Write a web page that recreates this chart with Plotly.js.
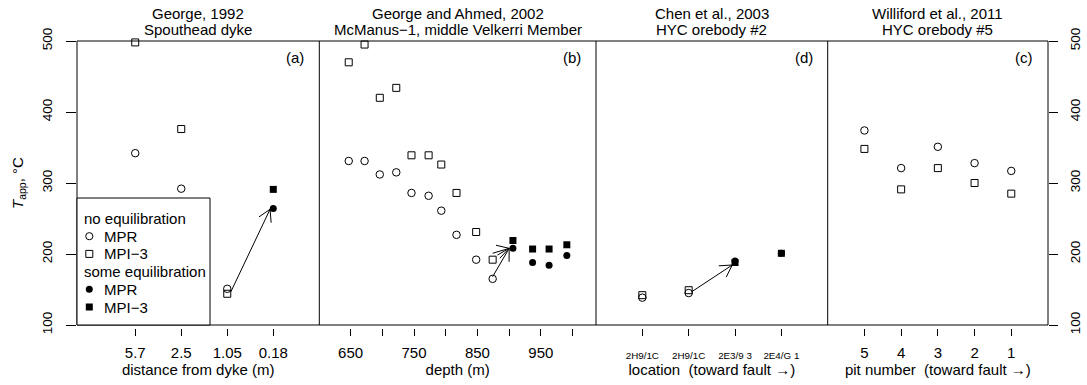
<!DOCTYPE html>
<html><head><meta charset="utf-8">
<script src="https://cdn.plot.ly/plotly-3.0.1.min.js"></script>
<style>html,body{margin:0;padding:0;background:#fff}</style>
</head><body><div id="chart" style="width:1087px;height:385px"></div>
<script>
// ---------- data ----------
// Panel (a) George, 1992 – Spouthead dyke (categorical positions 1..4)
const aTickVals = [1, 2, 3, 4];
const aTickText = ["5.7", "2.5", "1.05", "0.18"];
const aMprOpenX = [1, 2, 3];
const aMprOpenY = [342, 292, 151];
const aMpiOpenX = [1, 2, 3];
const aMpiOpenY = [498, 376, 144];
const aMprFillX = [4];
const aMprFillY = [264];
const aMpiFillX = [4];
const aMpiFillY = [291];

// Panel (b) George and Ahmed, 2002 – McManus-1 (depth, m)
const bTickVals = [650, 750, 850, 950];
const bTickText = ["650", "750", "850", "950"];
const bMinorStep = 50;
const bOpenX = [647, 672, 696, 722, 746, 773, 793, 817, 848, 874];
const bMpiOpenY = [470, 495, 420, 434, 339, 339, 326, 286, 231, 192];
const bMprOpenY = [331, 331, 312, 315, 286, 282, 261, 227, 192, 165];
const bFillX = [906, 937, 963, 991];
const bMpiFillY = [219, 207, 207, 213];
const bMprFillY = [208, 188, 184, 198];

// Panel (d) Chen et al., 2003 – HYC orebody #2
const dTickVals = [1, 2, 3, 4];
const dTickText = ["2H9/1C", "2H9/1C", "2E3/9 3", "2E4/G 1"];
const dOpenX = [1, 2];
const dMprOpenY = [138.5, 145];
const dMpiOpenY = [142, 149];
const dFillX = [3, 4];
const dMprFillY = [190, 201];
const dMpiFillY = [188, 201];

// Panel (c) Williford et al., 2011 – HYC orebody #5
const cTickVals = [1, 2, 3, 4, 5];
const cTickText = ["5", "4", "3", "2", "1"];
const cMprOpenY = [374, 321, 351, 328, 317];
const cMpiOpenY = [348, 291, 321, 300, 285];

// arrows (start -> end, in each panel's data units)
const arrowAxis = ["x", "x2", "x2", "x3"];
const arrowStartX = [3.08, 874, 874, 2.07];
const arrowStartY = [147, 201, 168, 147];
const arrowEndX = [3.93, 900, 900, 2.94];
const arrowEndY = [263, 208, 208, 184.5];

const yTickVals = [100, 200, 300, 400, 500];

const panelTitles1 = ["George, 1992", "George and Ahmed, 2002", "Chen et al., 2003", "Williford et al., 2011"];
const panelTitles2 = ["Spouthead dyke", "McManus\u22121, middle Velkerri Member", "HYC orebody #2", "HYC orebody #5"];
const panelLabels = ["(a)", "(b)", "(d)", "(c)"];
const panelAxes = ["x", "x2", "x3", "x4"];

const legendRows = ["no equilibration", "MPR", "MPI\u22123", "some equilibration", "MPR", "MPI\u22123"];
const legendSymbols = [null, "circle-open", "square-open", null, "circle", "square"];

// ---------- styles ----------
const FONT = "Liberation Sans, Arial, Helvetica, sans-serif";
const sty = {
  "circle-open": {symbol: "circle-open", size: 7.5, color: "black", line: {width: 1, color: "black"}},
  "square-open": {symbol: "square-open", size: 7, color: "black", line: {width: 1, color: "black"}},
  "circle": {symbol: "circle", size: 7, color: "black", line: {width: 0}},
  "square": {symbol: "square", size: 7, color: "black", line: {width: 0}}
};
function tr(x, y, xa, sym) {
  return {type: "scatter", mode: "markers", x: x, y: y, xaxis: xa, yaxis: "y",
          marker: sty[sym], showlegend: false, hoverinfo: "skip", cliponaxis: false};
}

const traces = [
  tr(aMprOpenX, aMprOpenY, "x", "circle-open"),
  tr(aMpiOpenX, aMpiOpenY, "x", "square-open"),
  tr(aMprFillX, aMprFillY, "x", "circle"),
  tr(aMpiFillX, aMpiFillY, "x", "square"),
  tr(bOpenX, bMprOpenY, "x2", "circle-open"),
  tr(bOpenX, bMpiOpenY, "x2", "square-open"),
  tr(bFillX, bMprFillY, "x2", "circle"),
  tr(bFillX, bMpiFillY, "x2", "square"),
  tr(dOpenX, dMprOpenY, "x3", "circle-open"),
  tr(dOpenX, dMpiOpenY, "x3", "square-open"),
  tr(dFillX, dMprFillY, "x3", "circle"),
  tr(dFillX, dMpiFillY, "x3", "square"),
  tr(cTickVals, cMprOpenY, "x4", "circle-open"),
  tr(cTickVals, cMpiOpenY, "x4", "square-open"),
  {type: "scatter", x: [], y: [], xaxis: "x4", yaxis: "y2", showlegend: false, hoverinfo: "skip"}
];

// ---------- layout ----------
const PLOT_L = 77, PLOT_R = 1048, PLOT_T = 41, PLOT_B = 325, PAPER_B = 328;
const W = PLOT_R - PLOT_L;
const bounds = [PLOT_L, 319.3, 596, 827.7, PLOT_R].map(v => (v - PLOT_L) / W);
const yDomLow = (PAPER_B - PLOT_B) / (PAPER_B - PLOT_T);
const xRanges = {x: [-0.265, 5.0], x2: [600.6, 1037], x3: [0, 5], x4: [0, 6]};
const yRange = [100, 500];

const xCommon = {
  anchor: "free", position: 0, showgrid: false, zeroline: false, showline: false,
  ticks: "outside", ticklen: 7, tickwidth: 1, tickcolor: "black",
  tickfont: {family: FONT, size: 15, color: "black"},
  ticklabelstandoff: 4, fixedrange: true
};
function xTitle(t) { return {text: t, font: {family: FONT, size: 15, color: "black"}, standoff: 3}; }

const layout = {
  width: 1087, height: 385,
  margin: {l: PLOT_L, r: 1087 - PLOT_R, t: PLOT_T, b: 385 - PAPER_B},
  paper_bgcolor: "white", plot_bgcolor: "white", showlegend: false,
  font: {family: FONT, size: 15, color: "black"},
  xaxis: Object.assign({}, xCommon, {domain: [bounds[0], bounds[1]], range: xRanges.x,
    tickmode: "array", tickvals: aTickVals, ticktext: aTickText, title: xTitle("distance from dyke (m)")}),
  xaxis2: Object.assign({}, xCommon, {domain: [bounds[1], bounds[2]], range: xRanges.x2,
    tickmode: "array", tickvals: bTickVals, ticktext: bTickText,
    minor: {tickmode: "linear", tick0: bTickVals[0], dtick: bMinorStep, ticks: "outside", ticklen: 7,
            tickwidth: 1, tickcolor: "black", showgrid: false},
    title: xTitle("depth (m)")}),
  xaxis3: Object.assign({}, xCommon, {domain: [bounds[2], bounds[3]], range: xRanges.x3,
    tickmode: "array", tickvals: dTickVals, ticktext: dTickText,
    tickfont: {family: FONT, size: 9.8, color: "black"}, ticklabelstandoff: 11,
    title: xTitle("location\u00a0 (toward fault \u2192)")}),
  xaxis4: Object.assign({}, xCommon, {domain: [bounds[3], bounds[4]], range: xRanges.x4,
    tickmode: "array", tickvals: cTickVals, ticktext: cTickText,
    title: xTitle("pit number\u00a0 (toward fault \u2192)")}),
  yaxis: {domain: [yDomLow, 1], range: yRange, anchor: "x", side: "left",
    showgrid: false, zeroline: false, showline: false,
    tickmode: "array", tickvals: yTickVals, ticks: "outside", ticklen: 10, tickwidth: 1, tickcolor: "black",
    tickangle: -90, tickfont: {family: FONT, size: 13.5, color: "black"}, ticklabelstandoff: 9, fixedrange: true},
  yaxis2: {overlaying: "y", range: yRange, anchor: "x4", side: "right",
    showgrid: false, zeroline: false, showline: false,
    tickmode: "array", tickvals: yTickVals, ticks: "outside", ticklen: 9, tickwidth: 1, tickcolor: "black",
    tickangle: -90, tickfont: {family: FONT, size: 13.5, color: "black"}, ticklabelstandoff: 6, fixedrange: true},
  shapes: [],
  annotations: []
};

// frame
layout.shapes.push({type: "rect", xref: "paper", x0: 0, x1: 1, yref: "y domain", y0: 0, y1: 1,
  line: {color: "black", width: 1}, fillcolor: "rgba(0,0,0,0)", layer: "above"});
["x2", "x3", "x4"].forEach(a => layout.shapes.push({type: "line", xref: a + " domain", x0: 0, x1: 0,
  yref: "y domain", y0: 0, y1: 1, line: {color: "black", width: 1}, layer: "above"}));

// panel titles & labels
panelAxes.forEach((a, i) => {
  layout.annotations.push({xref: a + " domain", x: 0.5, yref: "y domain", y: 1, yanchor: "middle",
    yshift: 28, text: panelTitles1[i], showarrow: false, font: {family: FONT, size: 15}});
  layout.annotations.push({xref: a + " domain", x: 0.5, yref: "y domain", y: 1, yanchor: "middle",
    yshift: 12, text: panelTitles2[i], showarrow: false, font: {family: FONT, size: 15}});
  layout.annotations.push({xref: a + " domain", x: 1, xanchor: "right", xshift: -13, yref: "y domain", y: 1,
    yanchor: "middle", yshift: -16, text: panelLabels[i], showarrow: false, font: {family: FONT, size: 15}});
});

// y title
layout.annotations.push({xref: "paper", x: 0, xanchor: "center", xshift: -59, yref: "y domain", y: 0.5,
  yanchor: "middle", textangle: -90,
  text: "<i>T</i><sub>app</sub>, \u00b0C", showarrow: false, font: {family: FONT, size: 15}});

// arrows: shaft as a data-space line, open V head (30 deg wings) as pixel-sized lines anchored at the tip
const plotH = PLOT_B - PLOT_T;
const HEAD_LEN = 13.5, HEAD_ANG = Math.PI / 6;
arrowAxis.forEach((a, i) => {
  layout.shapes.push({type: "line", xref: a, yref: "y",
    x0: arrowStartX[i], y0: arrowStartY[i], x1: arrowEndX[i], y1: arrowEndY[i],
    line: {color: "black", width: 1}, layer: "above"});
  const di = panelAxes.indexOf(a);
  const pxPerX = (bounds[di + 1] - bounds[di]) * W / (xRanges[a][1] - xRanges[a][0]);
  const pxPerY = plotH / (yRange[1] - yRange[0]);
  const dx = (arrowEndX[i] - arrowStartX[i]) * pxPerX;
  const dy = (arrowEndY[i] - arrowStartY[i]) * pxPerY;
  const ang = Math.atan2(dy, dx);
  [1, -1].forEach(s => {
    const w = ang + Math.PI + s * HEAD_ANG;
    layout.shapes.push({type: "line", xref: a, xsizemode: "pixel", xanchor: arrowEndX[i],
      x0: 0, x1: HEAD_LEN * Math.cos(w),
      yref: "y", ysizemode: "pixel", yanchor: arrowEndY[i],
      y0: 0, y1: HEAD_LEN * Math.sin(w),
      line: {color: "black", width: 1}, layer: "above"});
  });
});

// legend box in panel (a)
const LEG_W = 133, LEG_H = 127;
layout.shapes.push({type: "rect", xref: "paper", xsizemode: "pixel", xanchor: 0, x0: 0, x1: LEG_W,
  yref: "y domain", ysizemode: "pixel", yanchor: 0, y0: 0, y1: LEG_H,
  line: {color: "black", width: 1}, fillcolor: "white", layer: "above"});
const rowStep = 17.7, rowBase = 18;
legendRows.forEach((t, i) => {
  const yy = rowBase + (legendRows.length - 1 - i) * rowStep;
  const sym = legendSymbols[i];
  layout.annotations.push({xref: "paper", x: 0, xanchor: "left", xshift: sym ? 25.3 : 4.7,
    yref: "y domain", y: 0, yanchor: "middle", yshift: yy, text: t, showarrow: false,
    font: {family: FONT, size: 15}});
  if (sym) {
    const isCircle = sym.indexOf("circle") === 0;
    const filled = sym.indexOf("open") < 0;
    const r = isCircle ? (filled ? 3.5 : 3.6) : 3.5;
    layout.shapes.push({type: isCircle ? "circle" : "rect", xref: "paper", xsizemode: "pixel", xanchor: 0,
      x0: 12.3 - r, x1: 12.3 + r, yref: "y domain", ysizemode: "pixel", yanchor: 0, y0: yy - r, y1: yy + r,
      line: {color: "black", width: filled ? 0 : 1}, fillcolor: filled ? "black" : "rgba(0,0,0,0)", layer: "above"});
  }
});

Plotly.newPlot("chart", traces, layout, {displayModeBar: false, staticPlot: true});
</script>
</body></html>
